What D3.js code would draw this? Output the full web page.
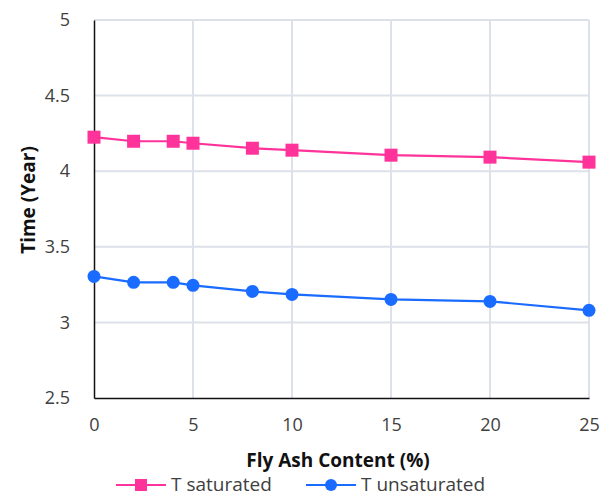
<!DOCTYPE html>
<html>
<head>
<meta charset="utf-8">
<script src="https://cdn.jsdelivr.net/npm/d3@7/dist/d3.min.js"></script>
<style>
  html, body { margin: 0; padding: 0; background: #fff; }
  svg text { font-family: "Open Sans", "Liberation Sans", sans-serif; }
</style>
</head>
<body>
<svg id="chart" width="609" height="498"></svg>
<script>
// Fly ash content (%) and time to corrosion (years)
const flyAsh = [0, 2, 4, 5, 8, 10, 15, 20, 25];
const tSaturated = [4.225, 4.198, 4.198, 4.185, 4.152, 4.139, 4.106, 4.093, 4.06];
const tUnsaturated = [3.304, 3.265, 3.265, 3.245, 3.205, 3.185, 3.152, 3.139, 3.08];
const xTicks = [0, 5, 10, 15, 20, 25];
const yTicks = [2.5, 3, 3.5, 4, 4.5, 5];
const seriesNames = ["T saturated", "T unsaturated"];

const pink = "#ff3399";
const blue = "#1a6bff";

const svg = d3.select("#chart");

const x = d3.scaleLinear().domain([0, 25]).range([94, 589]);
const y = d3.scaleLinear().domain([2.5, 5]).range([398, 20]);

// gridlines
const grid = svg.append("g");
grid.selectAll("line.v").data(xTicks.slice(1)).join("line")
  .attr("x1", d => x(d)).attr("x2", d => x(d))
  .attr("y1", y(5)).attr("y2", y(2.5))
  .attr("stroke", "#dde1ea").attr("stroke-width", 2);
grid.selectAll("line.h").data(yTicks.slice(1)).join("line")
  .attr("x1", x(0)).attr("x2", x(25))
  .attr("y1", d => y(d)).attr("y2", d => y(d))
  .attr("stroke", "#dde1ea").attr("stroke-width", 2);

// axes
const xAxis = svg.append("g").attr("transform", `translate(0,${y(2.5)})`)
  .call(d3.axisBottom(x).tickValues(xTicks).tickSize(0).tickPadding(20).tickFormat(d3.format("d")));
const yAxis = svg.append("g").attr("transform", `translate(${x(0)},0)`)
  .call(d3.axisLeft(y).tickValues(yTicks).tickSize(0).tickPadding(24).tickFormat(d => String(d)));
[xAxis, yAxis].forEach(g => {
  g.select(".domain").attr("stroke", "#111").attr("stroke-width", 1.5);
  g.selectAll("text").attr("font-size", 18).attr("fill", "#404040");
});

// axis titles
svg.append("text").attr("x", 338).attr("y", 467)
  .attr("text-anchor", "middle").attr("font-size", 19).attr("font-weight", "bold")
  .attr("fill", "#111").text("Fly Ash Content (%)");
svg.append("text").attr("transform", `translate(35,200) rotate(-90)`)
  .attr("text-anchor", "middle").attr("font-size", 19).attr("font-weight", "bold")
  .attr("fill", "#111").text("Time (Year)");

// series
const line = d3.line().x(d => x(d[0])).y(d => y(d[1]));
const sat = flyAsh.map((v, i) => [v, tSaturated[i]]);
const unsat = flyAsh.map((v, i) => [v, tUnsaturated[i]]);

svg.append("path").datum(sat).attr("d", line)
  .attr("fill", "none").attr("stroke", pink).attr("stroke-width", 2.2);
svg.append("g").selectAll("rect").data(sat).join("rect")
  .attr("x", d => x(d[0]) - 6.5).attr("y", d => y(d[1]) - 6.5)
  .attr("width", 13).attr("height", 13).attr("fill", pink);

svg.append("path").datum(unsat).attr("d", line)
  .attr("fill", "none").attr("stroke", blue).attr("stroke-width", 2.2);
svg.append("g").selectAll("circle").data(unsat).join("circle")
  .attr("cx", d => x(d[0])).attr("cy", d => y(d[1]))
  .attr("r", 6.5).attr("fill", blue);

// legend
const legend = svg.append("g");
const items = [
  { name: seriesNames[0], color: pink, shape: "rect", x0: 116 },
  { name: seriesNames[1], color: blue, shape: "circle", x0: 306 }
];
items.forEach(it => {
  const ly = 485;
  legend.append("line").attr("x1", it.x0).attr("x2", it.x0 + 50)
    .attr("y1", ly).attr("y2", ly).attr("stroke", it.color).attr("stroke-width", 2.2);
  if (it.shape === "rect") {
    legend.append("rect").attr("x", it.x0 + 25 - 6).attr("y", ly - 6)
      .attr("width", 12).attr("height", 12).attr("fill", it.color);
  } else {
    legend.append("circle").attr("cx", it.x0 + 25).attr("cy", ly).attr("r", 6).attr("fill", it.color);
  }
  legend.append("text").attr("x", it.x0 + 55).attr("y", ly + 6)
    .attr("font-size", 19).attr("fill", "#404040").text(it.name);
});
</script>
</body>
</html>
